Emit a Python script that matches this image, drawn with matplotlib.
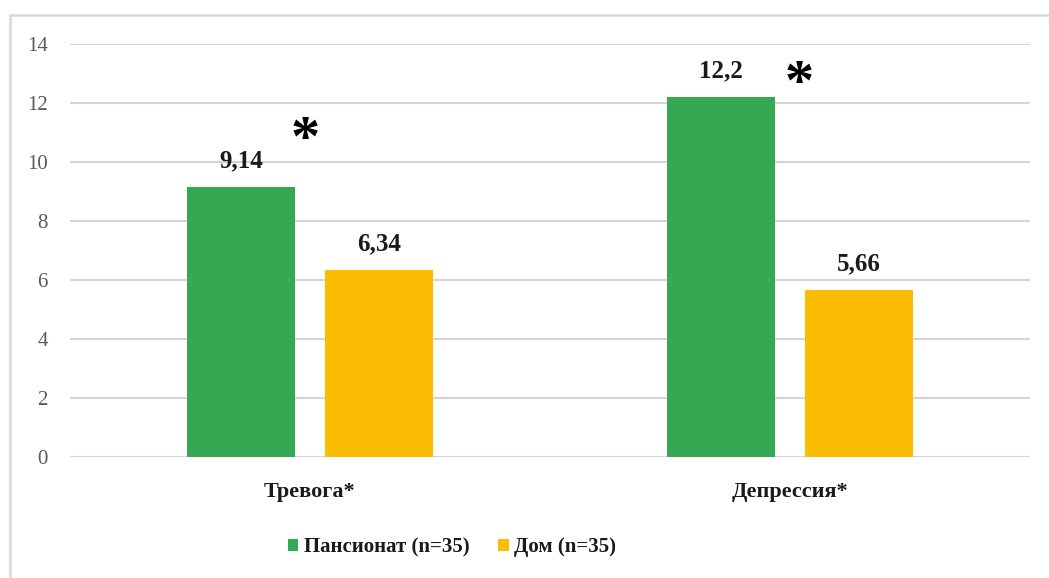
import numpy as np
import matplotlib.pyplot as plt
from matplotlib.patches import Rectangle

categories = ['Тревога*', 'Депрессия*']
series = ['Пансионат (n=35)', 'Дом (n=35)']
pansionat = [9.14, 12.2]
dom = [6.34, 5.66]
value_labels = [['9,14', '12,2'], ['6,34', '5,66']]
star_pos = [10.7, 12.6]

plt.rcParams['font.family'] = ['Liberation Serif', 'DejaVu Serif']

fig = plt.figure(figsize=(10.49, 5.78), dpi=100)
ax = fig.add_axes([70 / 1049, 1 - 457 / 578, 960 / 1049, 413 / 578])

# frame around the chart area (only top and left fall inside the image)
fig.patches.append(Rectangle((10 / 1049, -0.1), 1.2, (578 - 15) / 578 + 0.1,
                             transform=fig.transFigure, fill=False,
                             edgecolor='#d9d9d9', linewidth=1.8))

x = np.arange(len(categories))
w = 0.225
off = 0.144
colors = ['#34a853', '#fbbc04']

for i, (vals, col) in enumerate(zip([pansionat, dom], colors)):
    pos = x - off if i == 0 else x + off
    ax.bar(pos, vals, width=w, color=col, label=series[i], zorder=3)
    for p, v, t in zip(pos, vals, value_labels[i]):
        ax.text(p, v + 0.5, t, ha='center', va='bottom', fontsize=18,
                fontweight='bold', color='#1a1a1a')

# significance markers
ax.text(x[0] - 0.01, star_pos[0], '*', ha='center', va='center', fontsize=42,
        fontweight='bold', color='black')
ax.text(x[1] + 0.02, star_pos[1], '*', ha='center', va='center', fontsize=42,
        fontweight='bold', color='black')

ax.set_xlim(-0.5, 1.5)
ax.set_ylim(0, 14)
ax.set_yticks(range(0, 15, 2))
ax.yaxis.grid(True, color='#d4d4d4', linewidth=1.5, zorder=0)
ax.set_axisbelow(True)
for s in ax.spines.values():
    s.set_visible(False)
ax.tick_params(axis='y', length=0, pad=16, labelsize=15, labelcolor='#595959')
ax.tick_params(axis='x', length=0, pad=18)
ax.set_xticks(x)
ax.set_xticklabels(categories, fontsize=16, fontweight='bold', color='#1a1a1a')

leg = fig.legend(loc='center left', bbox_to_anchor=(288 / 1049, 1 - 547 / 578),
                 ncol=2, frameon=False, prop={'size': 15, 'weight': 'bold'},
                 handlelength=0.5, handleheight=0.5, handletextpad=0.25,
                 columnspacing=1.4, borderpad=0, borderaxespad=0)
for t in leg.get_texts():
    t.set_color('#1a1a1a')

fig.savefig('out.png', dpi=100)
